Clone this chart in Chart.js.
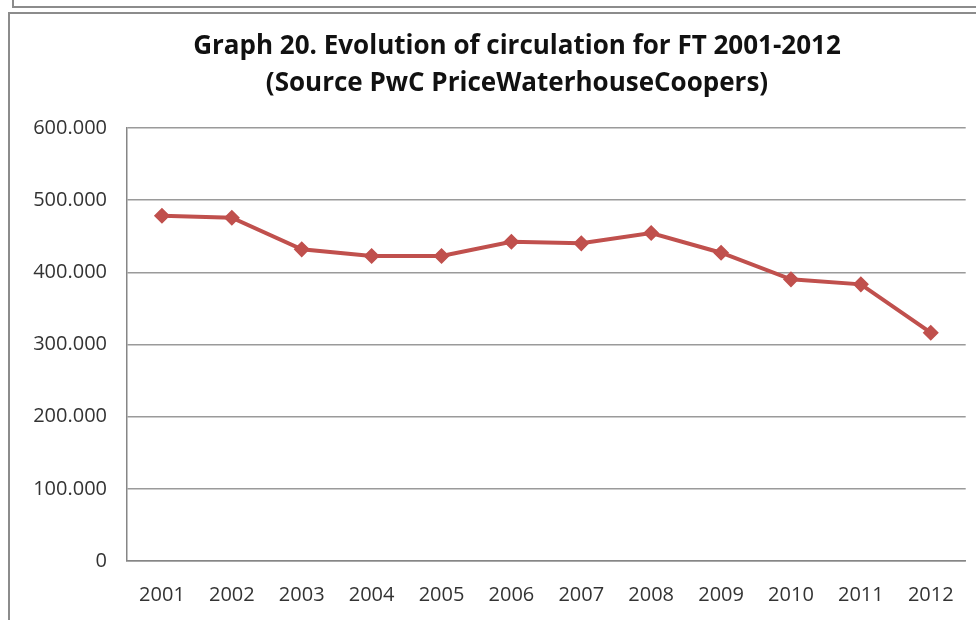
<!DOCTYPE html>
<html>
<head>
<meta charset="utf-8">
<script src="https://cdn.jsdelivr.net/npm/chart.js@4/dist/chart.umd.min.js"></script>
<style>
  html, body { margin: 0; padding: 0; background: #fff; overflow: hidden; }
  body { width: 976px; height: 620px; position: relative; }
  .frame-top { position: absolute; left: 12px; top: -10px; width: 1000px; height: 16px;
               border-left: 2px solid #8c8c8c; border-bottom: 2px solid #8c8c8c; }
  .frame { position: absolute; left: 8px; top: 12px; width: 1000px; height: 700px;
           border-left: 2px solid #8c8c8c; border-top: 2px solid #8c8c8c; }
  #chart { position: absolute; left: 0; top: 0; }
</style>
</head>
<body>
<div class="frame-top"></div>
<div class="frame"></div>
<canvas id="chart" width="976" height="620"></canvas>
<script>
const years = ['2001', '2002', '2003', '2004', '2005', '2006', '2007', '2008', '2009', '2010', '2011', '2012'];
const circulation = [478500, 475700, 431900, 422600, 422600, 442400, 440200, 454500, 427200, 390300, 383400, 316400];
const titleLines = ['Graph 20. Evolution of circulation for FT 2001-2012', '(Source PwC PriceWaterhouseCoopers)'];

const fontFamily = '"Open Sans", "Noto Sans", sans-serif';

function dotThousands(v) {
  return String(v).replace(/\B(?=(\d{3})+(?!\d))/g, '.');
}

const ctx = document.getElementById('chart').getContext('2d');
const chart = new Chart(ctx, {
  type: 'line',
  data: {
    labels: years,
    datasets: [
      {
        label: 'Circulation',
        data: circulation,
        borderColor: '#C0504D',
        backgroundColor: '#C0504D',
        borderWidth: 4,
        pointStyle: 'rectRot',
        pointRadius: 7,
        pointBorderWidth: 1.5,
        pointBorderColor: '#C0504D',
        pointBackgroundColor: '#C0504D',
        tension: 0,
        fill: false,
      }
    ]
  },
  options: {
    responsive: false,
    animation: false,
    // left padding shifts the title centre; y labels draw left of it
    layout: {
      padding: { left: 67, right: 9, top: 0, bottom: 0 }
    },
    plugins: {
      legend: { display: false },
      tooltip: { enabled: false },
      title: {
        display: true,
        text: titleLines,
        color: '#111',
        font: { family: fontFamily, size: 26, weight: 'bold', lineHeight: 1.42 },
        padding: { top: 28.5, bottom: 25.7 }
      }
    },
    scales: {
      x: {
        offset: true,
        grid: { display: false, drawTicks: false },
        border: { display: true, color: '#868686', width: 1.5 },
        ticks: {
          color: '#333',
          padding: 22,
          font: { family: fontFamily, size: 20 }
        },
        afterFit: scale => { scale.height = 59; }
      },
      y: {
        min: 0,
        max: 600000,
        grid: { color: '#9a9a9a', lineWidth: 1.5, drawTicks: false },
        border: { display: true, color: '#868686', width: 1.5 },
        ticks: {
          stepSize: 100000,
          color: '#333',
          padding: 20,
          font: { family: fontFamily, size: 20 },
          callback: value => dotThousands(value)
        },
        afterFit: scale => {
          scale.width = 60;
          // labels are wider than the box, don't clip them
          scale._computeLabelArea = () => null;
        }
      }
    }
  }
});
</script>
</body>
</html>
